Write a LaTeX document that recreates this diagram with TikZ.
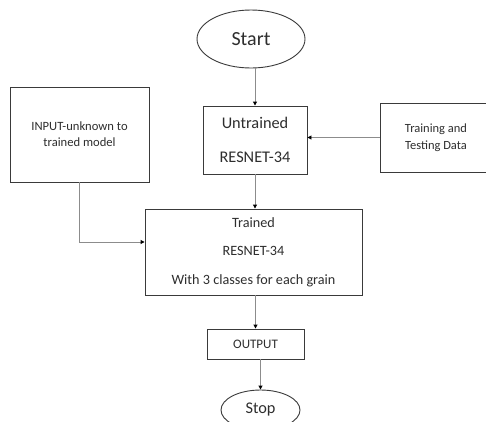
\documentclass[tikz,border=0pt]{standalone}
\usepackage{fontspec}
\setmainfont{Carlito}
\usetikzlibrary{arrows.meta,shapes.geometric,calc}
\definecolor{boxline}{HTML}{3A3A3A}
\definecolor{conn}{HTML}{8C8C8C}
\definecolor{txt}{HTML}{2E2E2E}
\tikzset{
  box/.style={draw=boxline, line width=0.9pt, rectangle, inner sep=0pt, text=txt, align=center},
  oval/.style={draw=boxline, line width=0.9pt, ellipse, inner sep=0pt, text=txt},
  conn/.style={draw=conn, line width=0.9pt, -{Triangle[length=4pt,width=4pt,color=black]}}
}
\begin{document}
\begin{tikzpicture}[x=1pt,y=-1pt]
\clip (0,0) rectangle (486,421);
\fill[white] (0,0) rectangle (486,421);
\node[oval, minimum width=108pt, minimum height=58pt, font=\fontsize{20}{24}\selectfont] (start) at (251,39) {Start};
\node[box, minimum width=104pt, minimum height=68pt, font=\fontsize{16.3}{34}\selectfont] (untrained) at (255,140) {Untrained\\RESNET-34};
\node[box, minimum width=112pt, minimum height=69pt, font=\fontsize{12.5}{17}\selectfont] (training) at (436,137.5) {Training and\\Testing Data};
\node[box, minimum width=139pt, minimum height=95pt, font=\fontsize{12.6}{16}\selectfont] (input) at (79.5,134.5) {INPUT-unknown to\\trained model};
\node[box, minimum width=217pt, minimum height=86pt, font=\fontsize{14.2}{28.5}\selectfont] (trained) at (253.5,252) {Trained\\RESNET-34\\With 3 classes for each grain};
\node[box, minimum width=97pt, minimum height=30pt, font=\fontsize{13}{16}\selectfont] (output) at (255.5,344) {OUTPUT};
\node[oval, minimum width=79pt, minimum height=40pt, font=\fontsize{16.3}{20}\selectfont] (stop) at (260.5,410) {Stop};
\draw[conn] (start.south -| untrained.north) -- (untrained.north);
\draw[conn] (training.west) -- (training.west -| untrained.east);
\draw[conn] (untrained.south) -- (untrained.south |- trained.north);
\draw[conn] (input.south) |- ($(trained.west)+(0,-10)$);
\draw[conn] (trained.south -| output.north) -- (output.north);
\draw[conn] (stop.north |- output.south) -- (stop.north);
\end{tikzpicture}
\end{document}
